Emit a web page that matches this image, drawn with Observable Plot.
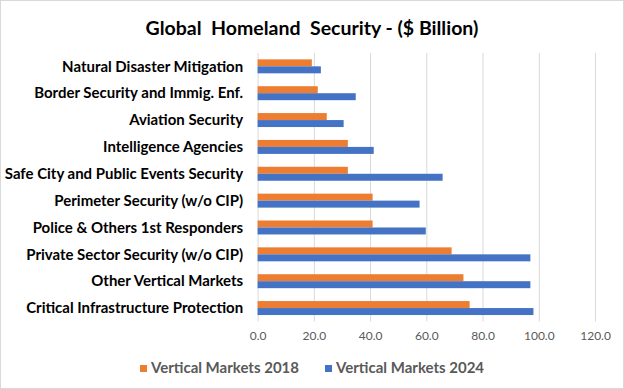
<!DOCTYPE html>
<html>
<head>
<meta charset="utf-8">
<script src="https://cdn.jsdelivr.net/npm/d3@7"></script>
<script src="https://cdn.jsdelivr.net/npm/@observablehq/plot@0.6"></script>
<style>
  html, body { margin: 0; padding: 0; background: #fff; }
  #chart { position: relative; width: 622px; height: 387px; border: 1px solid #d9d9d9; background: #fff; overflow: hidden; font-family: Lato, "Open Sans", sans-serif; }
  #title { position: absolute; left: 0; top: 15px; width: 622px; text-align: center; font-size: 19.5px; font-weight: bold; color: #000; white-space: pre; }
  #legend { position: absolute; left: 0; top: 357px; width: 622px; display: flex; justify-content: center; gap: 26px; font-size: 15px; font-weight: bold; color: #595959; }
  #legend span.sw { display: inline-block; width: 7px; height: 7px; margin-right: 4px; vertical-align: middle; position: relative; top: -1px; }
  #plot { position: absolute; left: -1px; top: -1px; }
</style>
</head>
<body>
<div id="chart">
  <div id="plot"></div>
  <div id="title">Global  Homeland  Security - ($ Billion)</div>
  <div id="legend"></div>
</div>
<script>
const categories = [
  "Natural Disaster Mitigation",
  "Border Security and Immig. Enf.",
  "Aviation Security",
  "Intelligence Agencies",
  "Safe City and Public Events Security",
  "Perimeter Security (w/o CIP)",
  "Police & Others 1st Responders",
  "Private Sector Security (w/o CIP)",
  "Other Vertical Markets",
  "Critical Infrastructure Protection"
];
const values2018 = [19.3, 21.4, 24.6, 32.1, 32.1, 40.9, 40.9, 69.0, 73.2, 75.4];
const values2024 = [22.5, 34.9, 30.6, 41.3, 65.8, 57.6, 59.8, 97.0, 97.0, 98.1];
const seriesNames = ["Vertical Markets 2018", "Vertical Markets 2024"];
const seriesColors = ["#ED7D31", "#4472C4"];
const xTicks = [0, 20, 40, 60, 80, 100, 120];

const d2018 = categories.map((c, i) => ({category: c, value: values2018[i]}));
const d2024 = categories.map((c, i) => ({category: c, value: values2024[i]}));

const plot = Plot.plot({
  width: 624,
  height: 389,
  marginTop: 53,
  marginBottom: 67,
  marginLeft: 258,
  marginRight: 28,
  style: {background: "transparent", fontFamily: "Lato, 'Open Sans', sans-serif"},
  x: {domain: [0, 120], ticks: xTicks},
  y: {domain: categories, paddingInner: 0.48, paddingOuter: 0.24, round: false},
  marks: [
    Plot.ruleX(xTicks, {stroke: "#d9d9d9", strokeWidth: 1}),
    Plot.barX(d2018, {y: "category", x: "value", fill: seriesColors[0], insetBottom: 7}),
    Plot.barX(d2024, {y: "category", x: "value", fill: seriesColors[1], insetTop: 7}),
    Plot.axisX({ticks: xTicks, tickSize: 0, tickPadding: 10, tickFormat: d => d.toFixed(1), fontSize: 12, fill: "#595959", label: null}),
    Plot.axisY({tickSize: 0, tickPadding: 15, fontSize: 15, fontWeight: "bold", fill: "#000", label: null})
  ]
});
document.getElementById("plot").appendChild(plot);

const legend = document.getElementById("legend");
seriesNames.forEach((name, i) => {
  const item = document.createElement("div");
  item.innerHTML = `<span class="sw" style="background:${seriesColors[i]}"></span>${name}`;
  legend.appendChild(item);
});
</script>
</body>
</html>
